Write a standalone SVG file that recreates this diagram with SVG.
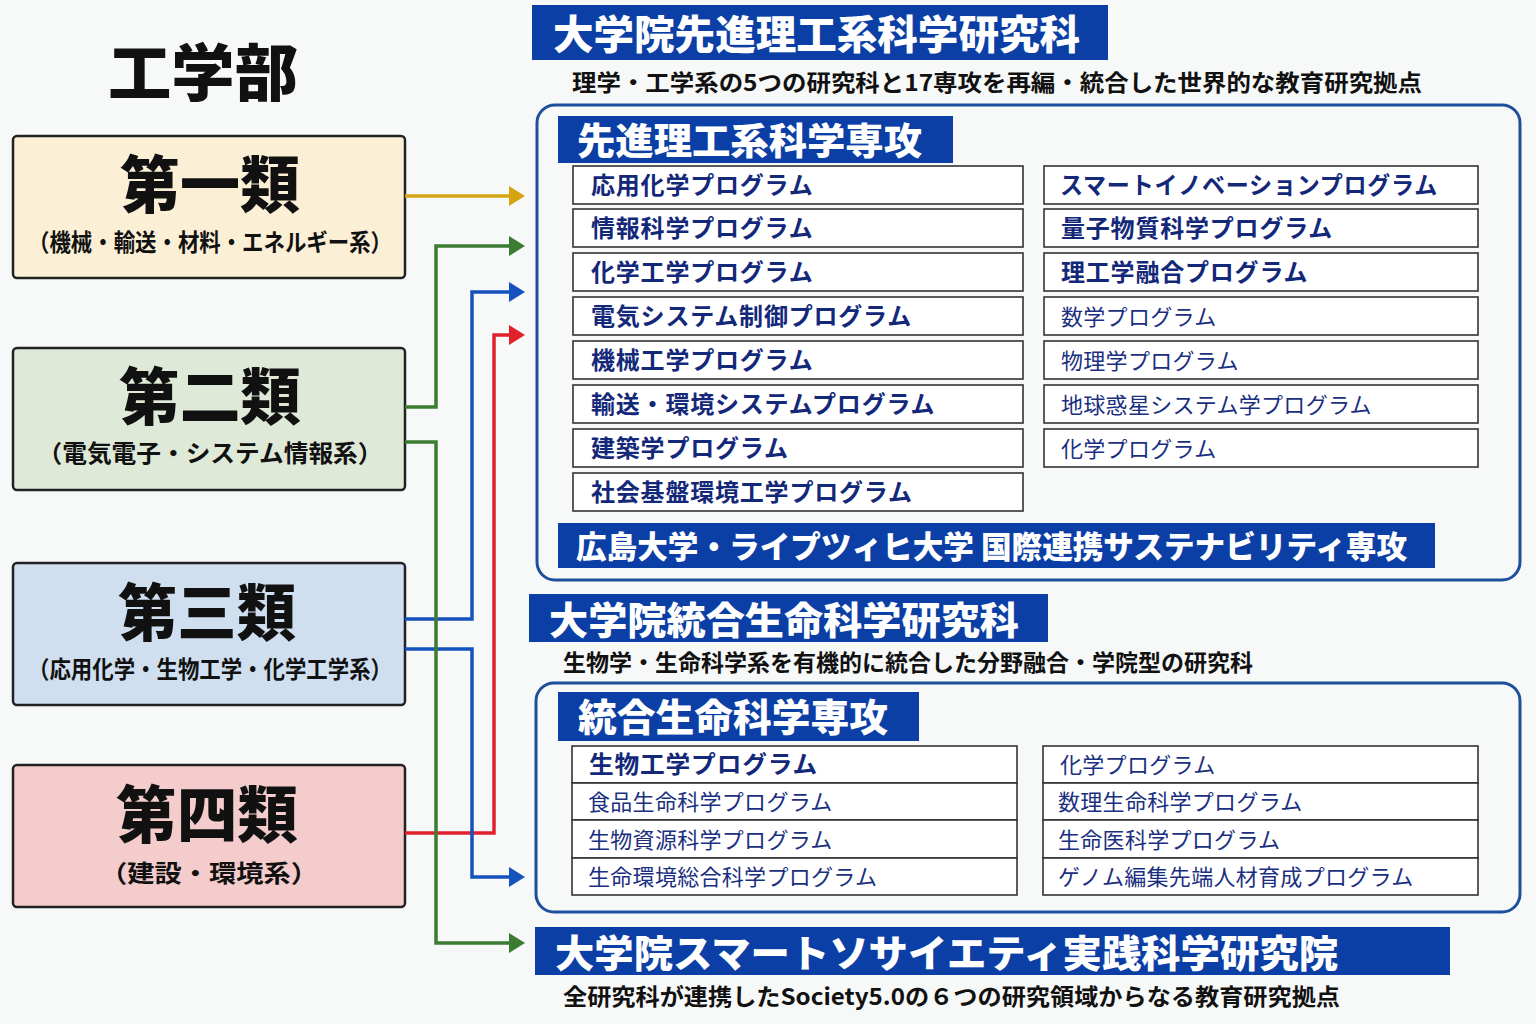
<svg xmlns="http://www.w3.org/2000/svg" width="1536" height="1024" viewBox="0 0 1536 1024">
<style>
text{font-family:"Noto Sans CJK JP","Noto Sans",sans-serif;}
.cat{stroke:#222;stroke-width:2.5;}
.catT{font-size:62px;font-weight:900;fill:#111;text-anchor:middle;}
.catS{font-size:24px;font-weight:700;fill:#111;text-anchor:middle;}
.hdr{fill:#0c3fa6;}
.hdrT{fill:#fff;font-weight:900;}
.sub{font-size:23px;font-weight:700;fill:#111;}
.frame{fill:none;stroke:#1d4f9c;stroke-width:3;}
.prog{fill:#fff;stroke:#333;stroke-width:1.6;}
.pb{font-size:24px;font-weight:700;fill:#14287a;letter-spacing:0.8px;}
.pn{font-size:22px;font-weight:400;fill:#1a2f80;letter-spacing:0.3px;}
.con{fill:none;stroke-width:3.5;}
</style>
<defs>
<marker id="aY" viewBox="0 0 16 20" markerWidth="16" markerHeight="20" refX="2" refY="10" orient="auto" markerUnits="userSpaceOnUse"><path d="M0,0 L16,10 L0,20 z" fill="#d6a412"/></marker>
<marker id="aG" viewBox="0 0 16 20" markerWidth="16" markerHeight="20" refX="2" refY="10" orient="auto" markerUnits="userSpaceOnUse"><path d="M0,0 L16,10 L0,20 z" fill="#3b7b32"/></marker>
<marker id="aB" viewBox="0 0 16 20" markerWidth="16" markerHeight="20" refX="2" refY="10" orient="auto" markerUnits="userSpaceOnUse"><path d="M0,0 L16,10 L0,20 z" fill="#1652bd"/></marker>
<marker id="aR" viewBox="0 0 16 20" markerWidth="16" markerHeight="20" refX="2" refY="10" orient="auto" markerUnits="userSpaceOnUse"><path d="M0,0 L16,10 L0,20 z" fill="#e0212b"/></marker>
</defs>
<rect width="1536" height="1024" fill="#f7f8f8"/>

<g id="title"><text x="203" y="96" font-size="62" font-weight="900" fill="#111" text-anchor="middle" textLength="190" lengthAdjust="spacingAndGlyphs">工学部</text></g>

<g id="cat1"><rect class="cat" x="13" y="136" width="392" height="142" rx="4" fill="#fbefd6"/>
<text class="catT" x="210" y="208" textLength="180" lengthAdjust="spacingAndGlyphs">第一類</text>
<text class="catS" x="210" y="251" textLength="364" lengthAdjust="spacingAndGlyphs">（機械・輸送・材料・エネルギー系）</text></g>

<g id="cat2"><rect class="cat" x="13" y="348" width="392" height="142" rx="4" fill="#dfe9d8"/>
<text class="catT" x="210" y="420" textLength="182" lengthAdjust="spacingAndGlyphs">第二類</text>
<text class="catS" x="210" y="462" textLength="345" lengthAdjust="spacingAndGlyphs">（電気電子・システム情報系）</text></g>

<g id="cat3"><rect class="cat" x="13" y="563" width="392" height="142" rx="4" fill="#cfdff0"/>
<text class="catT" x="207" y="636" textLength="178" lengthAdjust="spacingAndGlyphs">第三類</text>
<text class="catS" x="210" y="678" textLength="364" lengthAdjust="spacingAndGlyphs">（応用化学・生物工学・化学工学系）</text></g>

<g id="cat4"><rect class="cat" x="13" y="765" width="392" height="142" rx="4" fill="#f4cccc"/>
<text class="catT" x="207" y="838" textLength="182" lengthAdjust="spacingAndGlyphs">第四類</text>
<text class="catS" x="209" y="882" textLength="218" lengthAdjust="spacingAndGlyphs">（建設・環境系）</text></g>

<g id="connectors">
<path class="con" stroke="#d6a412" d="M405,196 H511" marker-end="url(#aY)"/>
<path class="con" stroke="#3b7b32" d="M405,407 H436 V246 H511" marker-end="url(#aG)"/>
<path class="con" stroke="#1652bd" d="M405,619 H472 V292 H511" marker-end="url(#aB)"/>
<path class="con" stroke="#e0212b" d="M405,833 H494 V335 H511" marker-end="url(#aR)"/>
<path class="con" stroke="#1652bd" d="M405,649 H472 V877 H511" marker-end="url(#aB)"/>
<path class="con" stroke="#3b7b32" d="M405,442 H436 V943 H511" marker-end="url(#aG)"/>
</g>

<g id="school1">
<rect class="hdr" x="532" y="5" width="576" height="55"/>
<text class="hdrT" x="553" y="49" font-size="40" textLength="527" lengthAdjust="spacingAndGlyphs">大学院先進理工系科学研究科</text>
<text class="sub" x="572" y="91" textLength="850" lengthAdjust="spacingAndGlyphs">理学・工学系の5つの研究科と17専攻を再編・統合した世界的な教育研究拠点</text>
<rect class="frame" x="537" y="105" width="983" height="475" rx="18"/>
<rect class="hdr" x="558" y="116" width="395" height="47"/>
<text class="hdrT" x="577" y="155" font-size="37" textLength="345" lengthAdjust="spacingAndGlyphs">先進理工系科学専攻</text>
</g>

<g id="programs1L">
<rect class="prog" x="573" y="166" width="450" height="38"/><text class="pb" x="591" y="194">応用化学プログラム</text>
<rect class="prog" x="573" y="209" width="450" height="38"/><text class="pb" x="591" y="237">情報科学プログラム</text>
<rect class="prog" x="573" y="253" width="450" height="38"/><text class="pb" x="591" y="281">化学工学プログラム</text>
<rect class="prog" x="573" y="297" width="450" height="38"/><text class="pb" x="591" y="325">電気システム制御プログラム</text>
<rect class="prog" x="573" y="341" width="450" height="38"/><text class="pb" x="591" y="369">機械工学プログラム</text>
<rect class="prog" x="573" y="385" width="450" height="38"/><text class="pb" x="591" y="413">輸送・環境システムプログラム</text>
<rect class="prog" x="573" y="429" width="450" height="38"/><text class="pb" x="591" y="457">建築学プログラム</text>
<rect class="prog" x="573" y="473" width="450" height="38"/><text class="pb" x="591" y="501">社会基盤環境工学プログラム</text>
</g>

<g id="programs1R">
<rect class="prog" x="1044" y="166" width="434" height="38"/><text class="pb" x="1060" y="194" textLength="378" lengthAdjust="spacingAndGlyphs">スマートイノベーションプログラム</text>
<rect class="prog" x="1044" y="209" width="434" height="38"/><text class="pb" x="1061" y="237">量子物質科学プログラム</text>
<rect class="prog" x="1044" y="253" width="434" height="38"/><text class="pb" x="1061" y="281">理工学融合プログラム</text>
<rect class="prog" x="1044" y="297" width="434" height="38"/><text class="pn" x="1061" y="325">数学プログラム</text>
<rect class="prog" x="1044" y="341" width="434" height="38"/><text class="pn" x="1061" y="369">物理学プログラム</text>
<rect class="prog" x="1044" y="385" width="434" height="38"/><text class="pn" x="1061" y="413">地球惑星システム学プログラム</text>
<rect class="prog" x="1044" y="429" width="434" height="38"/><text class="pn" x="1061" y="457">化学プログラム</text>
</g>

<g id="intl">
<rect class="hdr" x="558" y="523" width="877" height="45"/>
<text class="hdrT" x="576" y="558" font-size="31" textLength="831" lengthAdjust="spacingAndGlyphs">広島大学・ライプツィヒ大学 国際連携サステナビリティ専攻</text>
</g>

<g id="school2">
<rect class="hdr" x="529" y="594" width="519" height="48"/>
<text class="hdrT" x="549" y="634" font-size="38" textLength="470" lengthAdjust="spacingAndGlyphs">大学院統合生命科学研究科</text>
<text class="sub" x="563" y="671" font-size="22" textLength="690" lengthAdjust="spacingAndGlyphs">生物学・生命科学系を有機的に統合した分野融合・学院型の研究科</text>
<rect class="frame" x="536" y="683" width="984" height="229" rx="18"/>
<rect class="hdr" x="558" y="692" width="361" height="49"/>
<text class="hdrT" x="578" y="731" font-size="38" textLength="310" lengthAdjust="spacingAndGlyphs">統合生命科学専攻</text>
</g>

<g id="programs2L">
<rect class="prog" x="572" y="746" width="445" height="37"/><text class="pb" x="589" y="773" font-size="25" textLength="229" lengthAdjust="spacingAndGlyphs">生物工学プログラム</text>
<rect class="prog" x="572" y="783" width="445" height="37"/><text class="pn" x="588" y="810">食品生命科学プログラム</text>
<rect class="prog" x="572" y="820" width="445" height="38"/><text class="pn" x="588" y="848">生物資源科学プログラム</text>
<rect class="prog" x="572" y="858" width="445" height="37"/><text class="pn" x="588" y="885">生命環境総合科学プログラム</text>
</g>

<g id="programs2R">
<rect class="prog" x="1043" y="746" width="435" height="37"/><text class="pn" x="1060" y="773">化学プログラム</text>
<rect class="prog" x="1043" y="783" width="435" height="37"/><text class="pn" x="1058" y="810">数理生命科学プログラム</text>
<rect class="prog" x="1043" y="820" width="435" height="38"/><text class="pn" x="1058" y="848">生命医科学プログラム</text>
<rect class="prog" x="1043" y="858" width="435" height="37"/><text class="pn" x="1058" y="885">ゲノム編集先端人材育成プログラム</text>
</g>

<g id="school3">
<rect class="hdr" x="535" y="927" width="915" height="48"/>
<text class="hdrT" x="555" y="967" font-size="38" textLength="783" lengthAdjust="spacingAndGlyphs">大学院スマートソサイエティ実践科学研究院</text>
<text class="sub" x="563" y="1005" font-size="22" textLength="777" lengthAdjust="spacingAndGlyphs">全研究科が連携したSociety5.0の６つの研究領域からなる教育研究拠点</text>
</g>
</svg>
